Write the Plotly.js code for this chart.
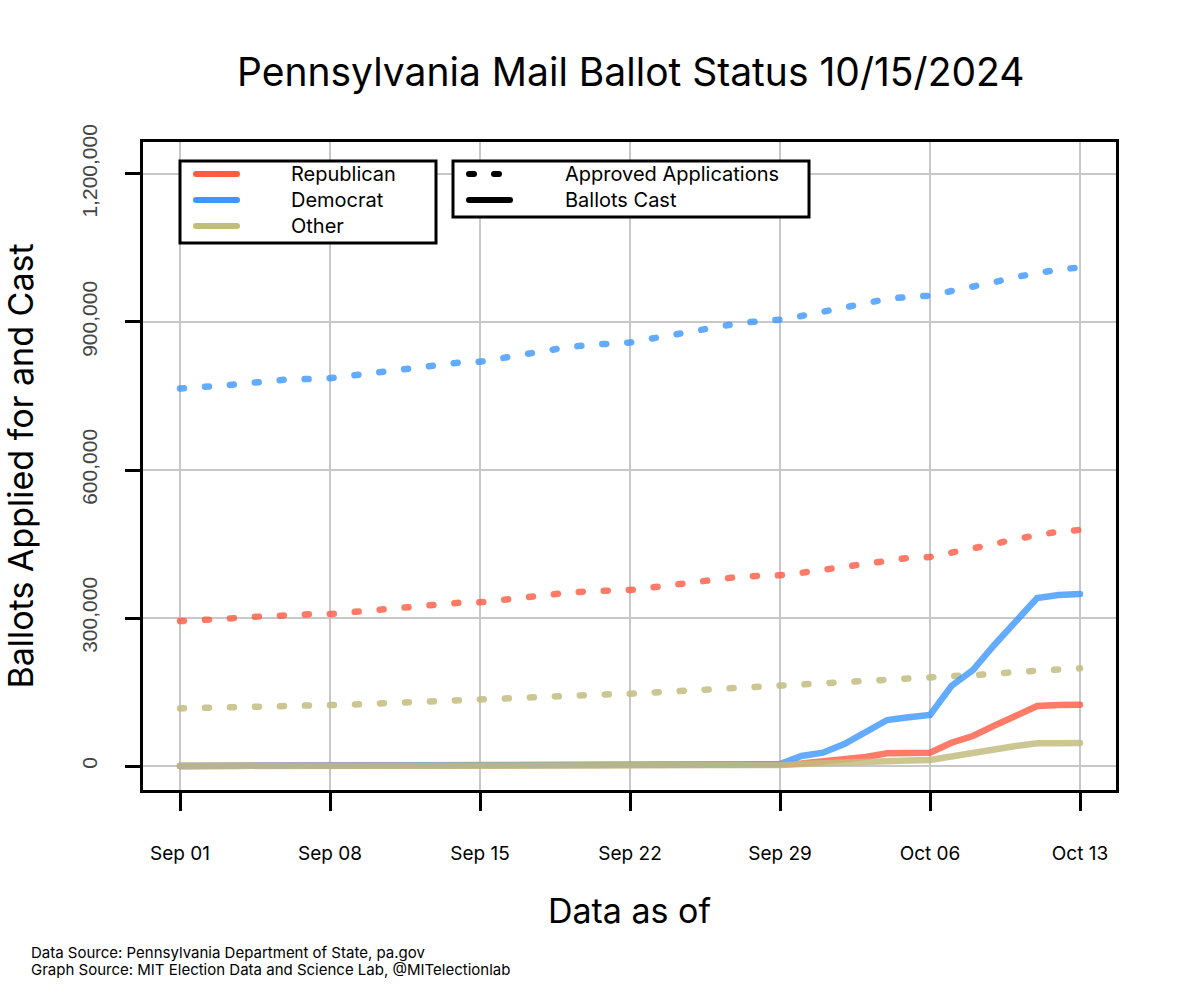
<!DOCTYPE html>
<html>
<head>
<meta charset="utf-8">
<script src="https://cdn.plot.ly/plotly-3.0.1.min.js"></script>
<style>
  html, body { margin: 0; padding: 0; background: #fff; }
  #chart { width: 1190px; height: 1000px; }
  .scatterlayer .js-line { stroke-linecap: round; }
  .shapelayer path { stroke-linecap: round; }
</style>
</head>
<body>
<div id="chart"></div>
<script>
// ---------------- DATA ----------------
const dates = [
  "2024-09-01","2024-09-02","2024-09-03","2024-09-04","2024-09-05","2024-09-06","2024-09-07",
  "2024-09-08","2024-09-09","2024-09-10","2024-09-11","2024-09-12","2024-09-13","2024-09-14",
  "2024-09-15","2024-09-16","2024-09-17","2024-09-18","2024-09-19","2024-09-20","2024-09-21",
  "2024-09-22","2024-09-23","2024-09-24","2024-09-25","2024-09-26","2024-09-27","2024-09-28",
  "2024-09-29","2024-09-30","2024-10-01","2024-10-02","2024-10-03","2024-10-04","2024-10-05",
  "2024-10-06","2024-10-07","2024-10-08","2024-10-09","2024-10-10","2024-10-11","2024-10-12",
  "2024-10-13"
];

// Approved applications
const repApproved = [
  293700,294900,298000,301400,304500,306700,307500,
  308100,312200,316600,320700,325300,329000,330800,
  331800,337100,341400,346200,350700,354100,355700,
  356800,362000,367700,373000,378400,383100,385500,
  386500,391600,397900,404800,412500,419000,422000,
  423600,431800,440300,450000,460100,468200,475300,
  478400
];
const demApproved = [
  765200,767200,770900,775300,779800,783400,784400,
  786100,791500,796600,802700,808800,814900,817700,
  819300,827000,834100,841200,848300,853400,856200,
  858400,866300,874300,882400,890900,897000,901600,
  904500,912200,920300,929800,939500,946600,951100,
  953100,962800,971000,980700,991200,1000400,1006400,
  1010500
];
const othApproved = [
  116800,117400,118400,119600,120600,121800,122400,
  123000,124500,126300,128300,130300,132000,133200,
  134200,135800,138200,140500,142700,144300,145300,
  146400,148800,151000,153300,156100,158500,159500,
  160700,163000,165600,168700,171700,174700,176600,
  177800,179800,183000,186700,190700,194200,196800,
  198000
];

// Ballots cast
const repCast = [
  0,0,0,0,0,0,0,
  0,0,0,0,0,0,0,
  100,200,300,400,500,600,650,
  700,900,1100,1400,1700,2000,2200,
  3000,5000,8700,13200,18200,25700,26400,
  27000,47200,60800,81700,101400,121600,123600,
  124300
];
const demCast = [
  0,0,0,0,0,0,0,
  0,0,0,0,0,0,0,
  200,400,600,800,1000,1200,1300,
  1400,1700,2000,2400,2800,3200,3500,
  4000,20300,27000,44600,67500,93200,98700,
  103400,162200,194600,245300,292500,340500,346600,
  348600
];
const othCast = [
  0,0,0,0,0,0,0,
  0,0,0,0,0,0,0,
  50,100,150,200,250,300,320,
  350,450,550,700,850,1000,1100,
  2000,4000,6100,8100,9100,10700,11300,
  12200,20300,25700,33400,40500,46000,46200,
  46600
];

const parties = ["Republican", "Democrat", "Other"];
const seriesLabels = ["Approved Applications", "Ballots Cast"];
const xTickVals = ["2024-09-01","2024-09-08","2024-09-15","2024-09-22","2024-09-29","2024-10-06","2024-10-13"];
const xTickText = ["Sep 01","Sep 08","Sep 15","Sep 22","Sep 29","Oct 06","Oct 13"];
const yTickVals = [0, 300000, 600000, 900000, 1200000];
const yTickText = ["0", "300,000", "600,000", "900,000", "1,200,000"];

// ---------------- STYLE ----------------
const lineCol = ["rgba(255,85,60,0.78)", "rgba(60,150,255,0.8)", "rgba(195,188,128,0.85)"];
const keyCol = ["#FF5A42", "#3D97FF", "#C3BC80"];
const FONT = "Inter, 'Noto Sans', 'DejaVu Sans', sans-serif";

const approvedSeries = [repApproved, demApproved, othApproved];
const castSeries = [repCast, demCast, othCast];

const traces = [];
approvedSeries.forEach((ys, i) => {
  traces.push({
    x: dates, y: ys, type: "scatter", mode: "lines",
    name: parties[i] + " – " + seriesLabels[0],
    line: { color: lineCol[i], width: 6.5, dash: "4px,21px" },
    showlegend: false, hoverinfo: "x+y+name"
  });
});
castSeries.forEach((ys, i) => {
  traces.push({
    x: dates, y: ys, type: "scatter", mode: "lines",
    name: parties[i] + " – " + seriesLabels[1],
    line: { color: lineCol[i], width: 6.5 },
    showlegend: false, hoverinfo: "x+y+name"
  });
});

// pixel -> paper helpers for layout decorations (plot area 143..1116 x, 142..790 y)
const L = 143, R = 1116, T = 142, B = 790;
const px = v => (v - L) / (R - L);
const py = v => (B - v) / (B - T);

const shapes = [];
const annotations = [];

// legend box 1: parties
shapes.push({ type: "rect", xref: "paper", yref: "paper", x0: px(180), x1: px(436), y0: py(243), y1: py(161),
  line: { color: "#000", width: 3 }, fillcolor: "#fff", layer: "above" });
const keyY = [174, 200, 226];
parties.forEach((p, i) => {
  shapes.push({ type: "line", xref: "paper", yref: "paper", x0: px(196), x1: px(237), y0: py(keyY[i]), y1: py(keyY[i]),
    line: { color: keyCol[i], width: 6 }, layer: "above" });
  annotations.push({ xref: "paper", yref: "paper", x: px(289), y: py(keyY[i]), text: p, showarrow: false,
    xanchor: "left", yanchor: "middle", font: { family: FONT, size: 20, color: "#000" } });
});

// legend box 2: series types
shapes.push({ type: "rect", xref: "paper", yref: "paper", x0: px(453), x1: px(809), y0: py(217), y1: py(161),
  line: { color: "#000", width: 3 }, fillcolor: "#fff", layer: "above" });
shapes.push({ type: "line", xref: "paper", yref: "paper", x0: px(469), x1: px(474), y0: py(174), y1: py(174),
  line: { color: "#000", width: 6 }, layer: "above" });
shapes.push({ type: "line", xref: "paper", yref: "paper", x0: px(494), x1: px(499), y0: py(174), y1: py(174),
  line: { color: "#000", width: 6 }, layer: "above" });
shapes.push({ type: "line", xref: "paper", yref: "paper", x0: px(469), x1: px(510), y0: py(200), y1: py(200),
  line: { color: "#000", width: 6 }, layer: "above" });
seriesLabels.forEach((s, i) => {
  annotations.push({ xref: "paper", yref: "paper", x: px(563), y: py(keyY[i]), text: s, showarrow: false,
    xanchor: "left", yanchor: "middle", font: { family: FONT, size: 20, color: "#000" } });
});

// footer
annotations.push({ xref: "paper", yref: "paper", x: px(29), y: py(953), text: "Data Source: Pennsylvania Department of State, pa.gov",
  showarrow: false, xanchor: "left", yanchor: "middle", font: { family: FONT, size: 15, color: "#000" } });
annotations.push({ xref: "paper", yref: "paper", x: px(29), y: py(970), text: "Graph Source: MIT Election Data and Science Lab, @MITelectionlab",
  showarrow: false, xanchor: "left", yanchor: "middle", font: { family: FONT, size: 15, color: "#000" } });

const layout = {
  width: 1190, height: 1000,
  margin: { l: L, r: 1190 - R, t: T, b: 1000 - B, pad: 0 },
  paper_bgcolor: "#fff", plot_bgcolor: "#fff",
  showlegend: false,
  font: { family: FONT, color: "#000" },
  title: { text: "Pennsylvania Mail Ballot Status 10/15/2024", font: { family: FONT, size: 39, color: "#000" },
    x: 0.53, xanchor: "center", y: 0.928, yanchor: "middle" },
  xaxis: {
    type: "date",
    range: ["2024-08-30 06:33", "2024-10-14 16:19"],
    tickmode: "array", tickvals: xTickVals, ticktext: xTickText,
    tickfont: { family: FONT, size: 19, color: "#000" },
    ticks: "outside", ticklen: 18, tickwidth: 3, tickcolor: "#000",
    ticklabelstandoff: 26,
    showgrid: true, gridcolor: "#c8c8c8", gridwidth: 1.5,
    showline: true, linecolor: "#000", linewidth: 3, mirror: true,
    zeroline: false,
    title: { text: "Data as of", font: { family: FONT, size: 34, color: "#000" }, standoff: 36 }
  },
  yaxis: {
    range: [-48650, 1264850],
    tickmode: "array", tickvals: yTickVals, ticktext: yTickText,
    tickangle: -90,
    tickfont: { family: "'Liberation Sans', Arial, sans-serif", size: 21, color: "#444" },
    ticks: "outside", ticklen: 15, tickwidth: 3, tickcolor: "#000",
    ticklabelstandoff: 20,
    showgrid: true, gridcolor: "#c8c8c8", gridwidth: 1.5,
    showline: true, linecolor: "#000", linewidth: 3, mirror: true,
    zeroline: false,
    title: { text: "Ballots Applied for and Cast", font: { family: FONT, size: 34, color: "#000" }, standoff: 44 }
  },
  shapes: shapes,
  annotations: annotations
};

Plotly.newPlot("chart", traces, layout, { displayModeBar: false, staticPlot: true });
</script>
</body>
</html>
